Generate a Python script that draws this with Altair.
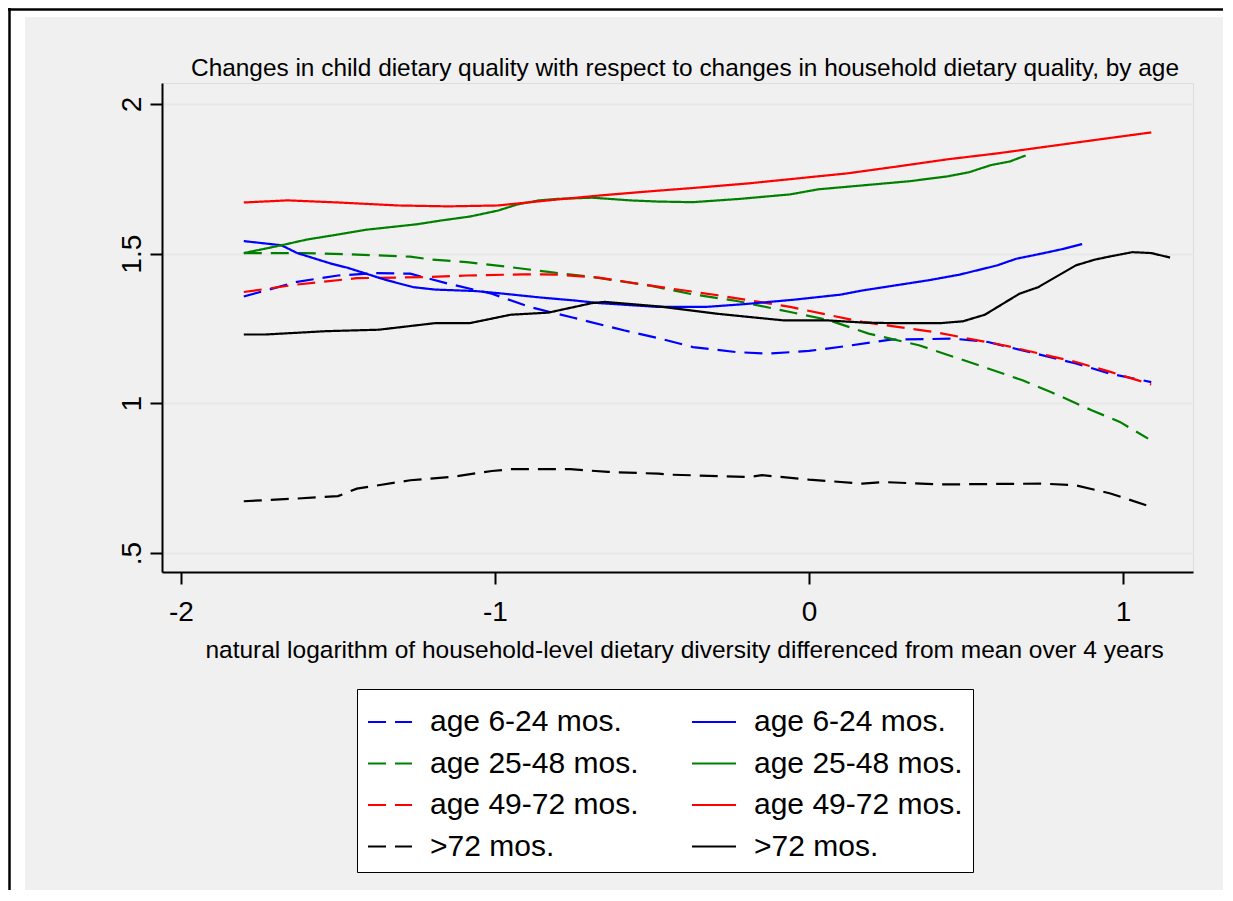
import altair as alt
import pandas as pd

FONT = "Liberation Sans, Arial, Helvetica, sans-serif"

# ---- data ----
# legend fills column by column: dashed series first, then solid ones
keys = ["age 6-24 mos.", "age 25-48 mos.", "age 49-72 mos.", ">72 mos.",
        "age 6-24 mos. ", "age 25-48 mos. ", "age 49-72 mos. ", ">72 mos. "]
colors = ["#0000FF", "#008000", "#FF0000", "#000000", "#0000FF", "#008000", "#FF0000", "#000000"]
dashes = [[18, 9], [18, 9], [18, 9], [18, 9], [1, 0], [1, 0], [1, 0], [1, 0]]

d1_x = [-1.80, -1.63, -1.50, -1.38, -1.27, -1.15, -1.01, -0.89, -0.75, -0.59, -0.48, -0.37, -0.23, -0.13, 0.00, 0.11, 0.26, 0.46, 0.57, 0.68, 0.85, 0.96, 1.09]
d1_y = [1.357, 1.406, 1.427, 1.435, 1.433, 1.400, 1.366, 1.322, 1.286, 1.244, 1.218, 1.188, 1.171, 1.166, 1.175, 1.190, 1.213, 1.216, 1.205, 1.177, 1.133, 1.099, 1.071]

d2_x = [-1.80, -1.61, -1.44, -1.27, -1.20, -1.09, -0.96, -0.83, -0.69, -0.51, -0.38, -0.23, -0.06, 0.06, 0.19, 0.35, 0.51, 0.68, 0.77, 0.90, 0.99, 1.08]
d2_y = [1.502, 1.502, 1.497, 1.490, 1.480, 1.472, 1.456, 1.439, 1.422, 1.394, 1.366, 1.342, 1.305, 1.279, 1.233, 1.194, 1.138, 1.077, 1.038, 0.977, 0.938, 0.882]

d3_x = [-1.80, -1.63, -1.44, -1.22, -1.09, -0.91, -0.80, -0.67, -0.51, -0.29, -0.06, 0.17, 0.40, 0.62, 0.85, 0.96, 1.09]
d3_y = [1.372, 1.397, 1.418, 1.422, 1.427, 1.431, 1.430, 1.420, 1.394, 1.361, 1.322, 1.272, 1.238, 1.194, 1.138, 1.105, 1.063]

d4_x = [-1.80, -1.63, -1.50, -1.44, -1.27, -1.14, -1.01, -0.95, -0.76, -0.64, -0.48, -0.45, -0.19, -0.15, 0.00, 0.17, 0.24, 0.42, 0.74, 0.85, 0.96, 1.09]
d4_y = [0.673, 0.682, 0.690, 0.715, 0.743, 0.754, 0.774, 0.780, 0.780, 0.771, 0.765, 0.762, 0.754, 0.760, 0.745, 0.732, 0.737, 0.729, 0.732, 0.726, 0.699, 0.654]

s1_x = [-1.80, -1.68, -1.63, -1.52, -1.47, -1.35, -1.26, -1.19, -1.06, -0.97, -0.85, -0.75, -0.67, -0.48, -0.33, -0.21, -0.05, 0.10, 0.17, 0.38, 0.48, 0.60, 0.66, 0.74, 0.81, 0.87]
s1_y = [1.542, 1.528, 1.502, 1.466, 1.453, 1.413, 1.388, 1.380, 1.375, 1.366, 1.353, 1.344, 1.335, 1.322, 1.322, 1.331, 1.346, 1.363, 1.377, 1.411, 1.430, 1.461, 1.483, 1.500, 1.516, 1.532]

s2_x = [-1.80, -1.68, -1.60, -1.50, -1.41, -1.33, -1.25, -1.17, -1.08, -0.99, -0.93, -0.86, -0.80, -0.69, -0.57, -0.48, -0.37, -0.22, -0.06, 0.03, 0.17, 0.32, 0.44, 0.51, 0.58, 0.64, 0.69]
s2_y = [1.502, 1.528, 1.547, 1.564, 1.580, 1.589, 1.598, 1.611, 1.624, 1.644, 1.664, 1.678, 1.683, 1.687, 1.678, 1.674, 1.672, 1.683, 1.698, 1.715, 1.728, 1.742, 1.758, 1.772, 1.796, 1.808, 1.828]

s3_x = [-1.80, -1.66, -1.50, -1.31, -1.15, -0.99, -0.83, -0.67, -0.51, -0.35, -0.19, -0.04, 0.12, 0.28, 0.44, 0.60, 0.76, 0.92, 1.09]
s3_y = [1.671, 1.678, 1.671, 1.661, 1.658, 1.661, 1.678, 1.694, 1.708, 1.721, 1.735, 1.751, 1.768, 1.791, 1.815, 1.835, 1.858, 1.881, 1.905]

s4_x = [-1.80, -1.73, -1.54, -1.37, -1.19, -1.08, -0.95, -0.83, -0.69, -0.65, -0.48, -0.29, -0.08, 0.06, 0.17, 0.26, 0.42, 0.49, 0.56, 0.67, 0.73, 0.85, 0.91, 0.96, 1.03, 1.09, 1.15]
s4_y = [1.230, 1.230, 1.241, 1.246, 1.268, 1.268, 1.296, 1.303, 1.335, 1.339, 1.324, 1.299, 1.277, 1.277, 1.270, 1.268, 1.268, 1.274, 1.296, 1.366, 1.388, 1.461, 1.480, 1.491, 1.505, 1.502, 1.487]

x_ticks = [-2, -1, 0, 1]
y_ticks = [0.5, 1, 1.5, 2]

title_text = "Changes in child dietary quality with respect to changes in household dietary quality, by age"
x_title = "natural logarithm of household-level dietary diversity differenced from mean over 4 years"

series = [(keys[0], d1_x, d1_y), (keys[1], d2_x, d2_y), (keys[2], d3_x, d3_y), (keys[3], d4_x, d4_y),
          (keys[4], s1_x, s1_y), (keys[5], s2_x, s2_y), (keys[6], s3_x, s3_y), (keys[7], s4_x, s4_y)]
rows = []
for k, xs, ys in series:
    for xv, yv in zip(xs, ys):
        rows.append({"x": xv, "y": yv, "key": k})
df = pd.DataFrame(rows)

W, H = 1031, 489
PAD_L, PAD_T, PAD_R, PAD_B = 154, 75, 30, 318

legend = alt.Legend(
    title=None, orient="none", legendX=195, legendY=606, columns=2,
    columnPadding=49, rowPadding=3.5, symbolType="stroke", symbolSize=1936,
    symbolStrokeWidth=2, labelFontSize=30, labelFont=FONT, labelColor="black",
    labelOffset=17, strokeColor="black", fillColor="white", padding=10,
    symbolLimit=0, labelLimit=0,
)

lines = alt.Chart(df).mark_line(strokeWidth=2.2).encode(
    x=alt.X("x:Q",
            scale=alt.Scale(domain=[-2.0605, 1.223], nice=False, zero=False),
            axis=alt.Axis(values=x_ticks, title=x_title, grid=False,
                          labelExpr="datum.value < 0 ? '-' + abs(datum.value) : '' + datum.value",
                          labelFontSize=28, labelFont=FONT, labelColor="black", labelPadding=14,
                          tickSize=12, tickWidth=2, tickColor="black",
                          domainColor="black", domainWidth=2,
                          titleFontSize=24.5, titleFont=FONT, titleFontWeight="normal", titleColor="black",
                          titleX=522, titleY=85, titleBaseline="alphabetic", titleAlign="center")),
    y=alt.Y("y:Q",
            scale=alt.Scale(domain=[0.4366, 2.0701], nice=False, zero=False),
            axis=alt.Axis(values=y_ticks, title=None, grid=True, gridColor="#E8E8E8", gridWidth=2,
                          labelExpr="datum.value == 0.5 ? '.5' : '' + datum.value",
                          labelAngle=270, labelAlign="center", labelBaseline="alphabetic",
                          labelFontSize=28, labelFont=FONT, labelColor="black", labelPadding=10,
                          tickSize=12, tickWidth=2, tickColor="black",
                          domainColor="black", domainWidth=2)),
    color=alt.Color("key:N", scale=alt.Scale(domain=keys, range=colors), legend=legend),
    strokeDash=alt.StrokeDash("key:N", scale=alt.Scale(domain=keys, range=dashes), legend=legend),
)

one = pd.DataFrame({"d": [0]})
# page frame decorations (white margin strips and black frame lines)
strip_left = alt.Chart(one).mark_rect(color="white").encode(
    x=alt.value(-PAD_L), x2=alt.value(-137), y=alt.value(-PAD_T), y2=alt.value(H + PAD_B))
strip_top = alt.Chart(one).mark_rect(color="white").encode(
    x=alt.value(-PAD_L), x2=alt.value(W + PAD_R), y=alt.value(-PAD_T), y2=alt.value(-66))
frame_left = alt.Chart(one).mark_rule(color="black", strokeWidth=2.5).encode(
    x=alt.value(-152.5), y=alt.value(-PAD_T), y2=alt.value(H + PAD_B))
frame_top = alt.Chart(one).mark_rule(color="black", strokeWidth=2.5).encode(
    x=alt.value(-PAD_L), x2=alt.value(W + PAD_R), y=alt.value(-73.5))

title = alt.Chart(pd.DataFrame({"t": [title_text]})).mark_text(
    font=FONT, fontSize=24.4, color="black", align="center", baseline="alphabetic"
).encode(text="t:N", x=alt.value(523), y=alt.value(-7))

chart = alt.layer(strip_left, strip_top, frame_left, frame_top, title, lines).properties(
    width=W, height=H,
    background="#F0F0F0",
    padding={"left": PAD_L, "top": PAD_T, "right": PAD_R, "bottom": PAD_B},
    autosize=alt.AutoSizeParams(type="none"),
).configure_view(fill="white", strokeWidth=0).configure(font=FONT)

chart.save("out.html", embed_options={"renderer": "svg", "actions": False})
